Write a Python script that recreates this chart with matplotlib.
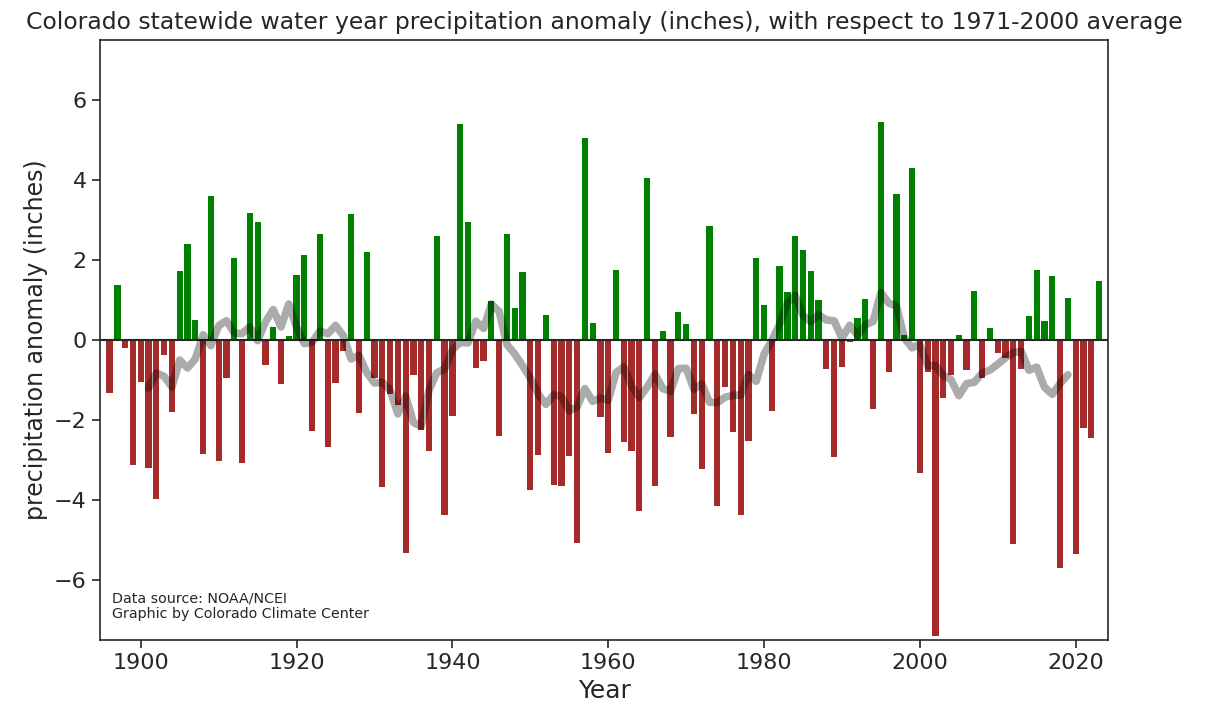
import numpy as np
import pandas as pd
import matplotlib
matplotlib.use("Agg")
import matplotlib.pyplot as plt

years = np.arange(1896, 2024)
anomaly = [
    -1.33, 1.38, -0.21, -3.13, -1.06, -3.21, -3.98, -0.38, -1.81, 1.73,   # 1896-1905
    2.41, 0.51, -2.86, 3.61, -3.03, -0.96, 2.06, -3.08, 3.18, 2.96,       # 1906-1915
    -0.63, 0.33, -1.11, 0.11, 1.63, 2.13, -2.28, 2.66, -2.68, -1.08,      # 1916-1925
    -0.28, 3.16, -1.83, 2.21, -0.96, -3.68, -1.35, -1.63, -5.33, -0.88,   # 1926-1935
    -2.26, -2.78, 2.61, -4.38, -1.91, 5.41, 2.96, -0.71, -0.53, 0.98,     # 1936-1945
    -2.41, 2.66, 0.81, 1.71, -3.76, -2.88, 0.63, -3.63, -3.66, -2.91,     # 1946-1955
    -5.08, 5.06, 0.43, -1.93, -2.83, 1.76, -2.56, -2.78, -4.28, 4.06,     # 1956-1965
    -3.66, 0.23, -2.43, 0.71, 0.41, -1.86, -3.23, 2.86, -4.16, -1.18,     # 1966-1975
    -2.31, -4.38, -2.53, 2.06, 0.88, -1.78, 1.86, 1.21, 2.61, 2.26,       # 1976-1985
    1.73, 1.01, -0.73, -2.93, -0.68, -0.06, 0.56, 1.03, -1.73, 5.46,      # 1986-1995
    -0.81, 3.66, 0.13, 4.30, -3.33, -0.79, -7.40, -1.46, -0.88, 0.13,     # 1996-2005
    -0.76, 1.23, -0.95, 0.29, -0.33, -0.44, -5.11, -0.72, 0.61, 1.76,     # 2006-2015
    0.48, 1.61, -5.71, 1.05, -5.36, -2.19, -2.44, 1.48,                   # 2016-2023
]

df = pd.DataFrame({"year": years, "anom": anomaly})
# 10-year centered running mean
df["smooth"] = df["anom"].rolling(10, center=True).mean()
colors = ["green" if v > 0 else "brown" for v in df["anom"]]

fig = plt.figure(figsize=(12.18, 7.06), dpi=100)
ax = fig.add_axes([0.082, 0.0935, 0.828, 0.85])

ax.bar(df["year"], df["anom"], width=0.8, color=colors)
ax.axhline(0, color="#262626", lw=1.5)
ax.plot(df["year"], df["smooth"], color="k", alpha=0.33, lw=5.5,
        solid_capstyle="round")

ax.set_xlim(1894.75, 2024.2)
ax.set_ylim(-7.5, 7.5)
ax.set_yticks([-6, -4, -2, 0, 2, 4, 6])
ax.set_xticks([1900, 1920, 1940, 1960, 1980, 2000, 2020])
ax.tick_params(labelsize=16, length=6, width=1.2, colors="#262626")
for s in ax.spines.values():
    s.set_color("#262626")
    s.set_linewidth(1.2)

ax.set_xlabel("Year", fontsize=18, color="#262626")
ax.set_ylabel("precipitation anomaly (inches)", fontsize=17, color="#262626")
ax.set_title("Colorado statewide water year precipitation anomaly (inches), "
             "with respect to 1971-2000 average", fontsize=16.9, color="#262626",
             pad=8)
ax.text(0.012, 0.036, "Data source: NOAA/NCEI\nGraphic by Colorado Climate Center",
        transform=ax.transAxes, fontsize=10.3, color="#262626", linespacing=1.2)

fig.savefig("out.png", dpi=100)
